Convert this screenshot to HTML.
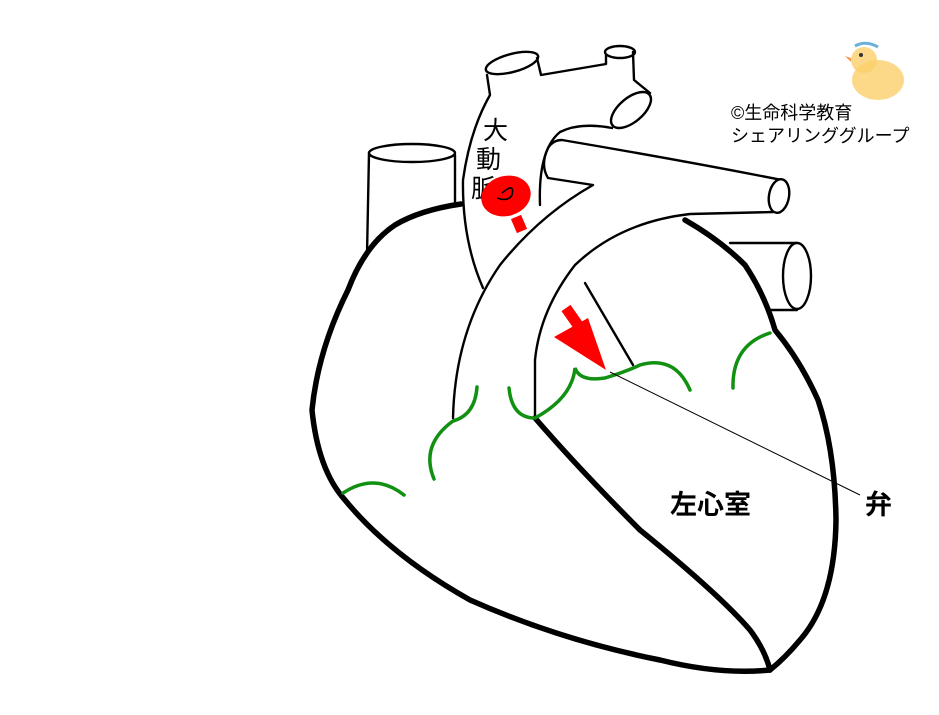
<!DOCTYPE html>
<html><head><meta charset="utf-8"><style>
html,body{margin:0;padding:0;background:#fff;}
svg{display:block;}
text{font-family:"Liberation Sans","Noto Sans CJK JP",sans-serif;}
</style></head><body>
<svg width="939" height="715" viewBox="0 0 939 715" xmlns="http://www.w3.org/2000/svg">
<g fill="none" stroke="#000" stroke-width="2.4" stroke-linejoin="round" stroke-linecap="round">
  <path d="M369,153 L367,255 M455,155 L455,205"/>
  <ellipse cx="412" cy="153" rx="43" ry="9" fill="#fff"/>
  <path d="M487,75 L490,95 Q470,130 463,180 Q462,240 483,288"/>
  <ellipse cx="512" cy="63" rx="27" ry="9" transform="rotate(-15 512 63)" fill="#fff"/>
  <path d="M537,58 L541,75 L606,64 L606,52"/>
  <ellipse cx="620" cy="52" rx="15" ry="6" fill="#fff"/>
  <path d="M633,52 L634,80 L650,93"/>
  <ellipse cx="631" cy="110" rx="24" ry="12" transform="rotate(-40 631 110)" fill="#fff"/>
  <path d="M612,128 Q580,122 560,132 Q538,150 540,205"/>
  <path d="M453,418 Q455,330 500,265 Q540,215 593,185 L548,178 Q540,165 548,148 Q553,140 562,140 Q680,160 782,180"/>
  <ellipse cx="779" cy="196" rx="10" ry="17" transform="rotate(10 779 196)" fill="#fff"/>
  <path d="M773,212 L690,214 Q620,222 575,265 Q540,310 535,360 L535,418"/>
  <path d="M585,283 L633,365"/>
  <path d="M730,243 L797,243 M770,310 L797,310"/>
  <ellipse cx="797" cy="276" rx="14" ry="33" fill="#fff"/>
</g>
<g fill="none" stroke="#000" stroke-width="5.5" stroke-linecap="round" stroke-linejoin="round">
  <path d="M461,204 Q420,210 395,225 Q365,245 348,290 Q318,350 312,410 Q318,470 345,500 Q390,555 470,600 Q560,640 660,660 Q720,675 770,670"/>
  <path d="M685,220 Q720,240 745,265 Q765,295 775,330 Q800,360 818,400 Q835,450 836,520 Q835,600 800,640 Q785,658 770,670"/>
  <path d="M535,418 Q580,470 640,530 Q720,595 750,630 Q765,650 770,670"/>
</g>
<g fill="none" stroke="#129012" stroke-width="3.5" stroke-linecap="round">
  <path d="M343,493 Q375,472 404,495"/>
  <path d="M434,479 Q420,445 453,421 Q475,415 477,387"/>
  <path d="M509,388 Q512,418 535,418 Q572,398 575,368 Q580,382 605,378 Q625,372 640,365 Q675,355 690,390"/>
  <path d="M733,388 Q732,345 770,333"/>
</g>
<text x="483" y="139" font-size="25">大</text>
<text x="476" y="168" font-size="25">動</text>
<text x="471" y="197" font-size="25">脈</text>
<ellipse cx="506" cy="196" rx="25" ry="20" transform="rotate(-15 506 196)" fill="#f00"/>
<path d="M502,193 Q515,182 512,195 Q508,202 497,198" fill="none" stroke="#000" stroke-width="1.6"/>
<path d="M516,217 L522,231" stroke="#f00" stroke-width="11"/>
<path d="M566,308 L580,328" stroke="#f00" stroke-width="11"/>
<polygon points="554,337 588,318 606,370" fill="#f00"/>
<path d="M610,372 L860,495" stroke="#000" stroke-width="1"/>
<text x="670" y="514" font-size="27" font-weight="bold">左心室</text>
<text x="865" y="514" font-size="27" font-weight="bold">弁</text>
<text x="731" y="119" font-size="18">©生命科学教育</text>
<text x="731" y="142" font-size="18">シェアリンググループ</text>
<g>
  <ellipse cx="878" cy="80" rx="26" ry="20" fill="#fbd06a" opacity="0.8"/>
  <circle cx="864" cy="60" r="13" fill="#fbd06a" opacity="0.8"/>
  <polygon points="851,58 845,56 851,62" fill="#f29a4a"/>
  <circle cx="861" cy="55" r="2" fill="#333"/>
  <path d="M855,46 Q866,40 878,47" stroke="#6ab0d8" stroke-width="3" fill="none"/>
</g>
</svg>
</body></html>
